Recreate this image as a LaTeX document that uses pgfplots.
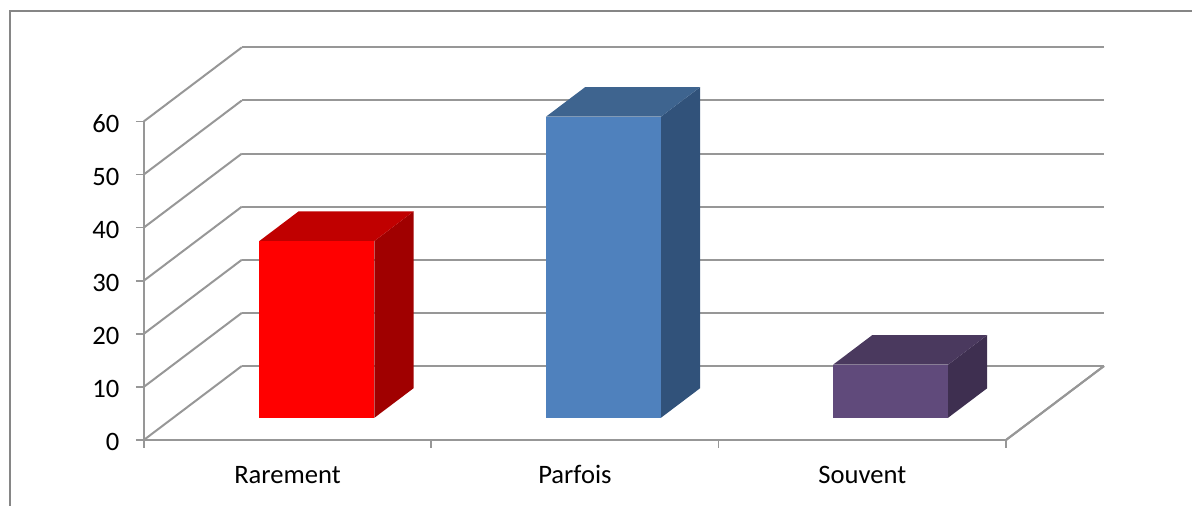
\documentclass[border=0pt]{standalone}
\usepackage{fontspec}
\setmainfont{Carlito}
\usepackage{pgfplots}
\pgfplotsset{compat=1.18}

\definecolor{framegray}{HTML}{868686}
\definecolor{gridgray}{HTML}{979797}
\definecolor{redfront}{HTML}{FF0000}
\definecolor{redtop}{HTML}{C00000}
\definecolor{redside}{HTML}{A00000}
\definecolor{bluefront}{HTML}{4F81BD}
\definecolor{bluetop}{HTML}{3E648F}
\definecolor{blueside}{HTML}{31527A}
\definecolor{purplefront}{HTML}{604A7B}
\definecolor{purpletop}{HTML}{4A395E}
\definecolor{purpleside}{HTML}{3E2F50}

% One box: side face, top face and front face.
% #1 left x, #2 right x, #3 value, #4 front, #5 top, #6 side
\newcommand{\barbox}[6]{%
  \addplot3[fill=#6,draw=none] coordinates {(#2,0.3,0) (#2,0.7,0) (#2,0.7,#3) (#2,0.3,#3)};
  \addplot3[fill=#5,draw=none] coordinates {(#1,0.3,#3) (#2,0.3,#3) (#2,0.7,#3) (#1,0.7,#3)};
  \addplot3[fill=#4,draw=none] coordinates {(#1,0.3,0) (#2,0.3,0) (#2,0.3,#3) (#1,0.3,#3)};
}

\begin{document}
\begin{tikzpicture}[x=1pt,y=1pt]
\useasboundingbox (0,0) rectangle (1192,506);
\draw[framegray,line width=1.8pt] (1192,494.7) -- (10.3,494.7) -- (10.3,0);
\begin{axis}[
  at={(143.8pt,66pt)}, anchor=origin,
  x={(287.4pt,0pt)}, y={(98pt,74pt)}, z={(0pt,5.31pt)},
  xmin=0, xmax=3, ymin=0, ymax=1, zmin=0, zmax=60,
  axis lines=left,
  axis line style={-,gridgray,line width=2pt},
  clip=false,
  xtick={0.5,1.5,2.5},
  xticklabels={Rarement,Parfois,Souvent},
  ytick=\empty,
  ztick={0,10,...,60},
  zmajorgrids=true,
  major grid style={gridgray,line width=2pt},
  major tick length=0pt,
  xticklabel style={anchor=base,yshift=-44pt},
  zticklabel style={anchor=base east,xshift=-21pt,yshift=-11pt},
  tick label style={font=\fontsize{26.6}{30}\selectfont,black},
  /pgf/number format/assume math mode=true,
]
  % floor edge on the right-hand side
  \addplot3[gridgray,line width=2pt] coordinates {(3,0,0) (3,1,0)};
  % tick marks along the value axis, reaching left of the front corner
  \addplot3[gridgray,line width=1.7pt,forget plot] coordinates {(-0.028,0,0) (0,0,0)};
  \addplot3[gridgray,line width=1.7pt,forget plot] coordinates {(-0.028,0,10) (0,0,10)};
  \addplot3[gridgray,line width=1.7pt,forget plot] coordinates {(-0.028,0,20) (0,0,20)};
  \addplot3[gridgray,line width=1.7pt,forget plot] coordinates {(-0.028,0,30) (0,0,30)};
  \addplot3[gridgray,line width=1.7pt,forget plot] coordinates {(-0.028,0,40) (0,0,40)};
  \addplot3[gridgray,line width=1.7pt,forget plot] coordinates {(-0.028,0,50) (0,0,50)};
  \addplot3[gridgray,line width=1.7pt,forget plot] coordinates {(-0.028,0,60) (0,0,60)};
  % tick marks separating the categories
  \addplot3[gridgray,line width=1.7pt,forget plot] coordinates {(0,0,0) (0,0,-1.6)};
  \addplot3[gridgray,line width=1.7pt,forget plot] coordinates {(1,0,0) (1,0,-1.6)};
  \addplot3[gridgray,line width=1.7pt,forget plot] coordinates {(2,0,0) (2,0,-1.6)};
  \addplot3[gridgray,line width=1.7pt,forget plot] coordinates {(3,0,0) (3,0,-1.6)};
  \barbox{0.3}{0.7}{33.3}{redfront}{redtop}{redside}
  \barbox{1.297}{1.697}{56.7}{bluefront}{bluetop}{blueside}
  \barbox{2.296}{2.696}{10}{purplefront}{purpletop}{purpleside}
\end{axis}
\end{tikzpicture}
\end{document}
